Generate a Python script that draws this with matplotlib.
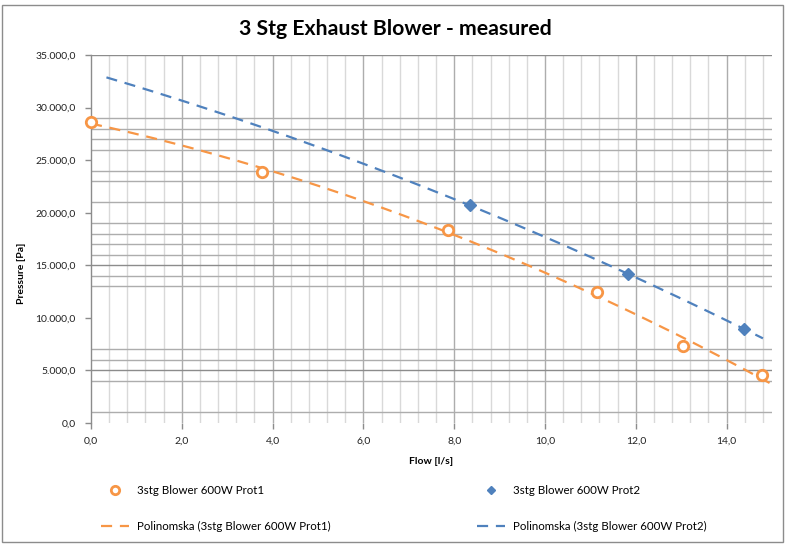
import matplotlib
matplotlib.use("Agg")
import matplotlib.pyplot as plt
from matplotlib.lines import Line2D
from matplotlib.patches import Rectangle
from matplotlib.ticker import FuncFormatter
import numpy as np

plt.rcParams['font.family'] = ['Lato', 'DejaVu Sans']

# measured points
flow_p1 = [0.0, 3.76, 7.87, 11.14, 13.05, 14.77]
pres_p1 = [28600, 23900, 18400, 12500, 7300, 4550]
flow_p2 = [8.34, 11.83, 14.39]
pres_p2 = [20700, 14180, 8930]

label_p1 = "3stg Blower 600W Prot1"
label_p2 = "3stg Blower 600W Prot2"
trend_p1 = "Polinomska (3stg Blower 600W Prot1)"
trend_p2 = "Polinomska (3stg Blower 600W Prot2)"

# trendline extent (Excel forecast)
trend_range_p1 = (0.0, 15.2)
trend_range_p2 = (0.34, 14.8)

# horizontal gridlines that survived in the picture
ygrid = [1000, 4000, 5000, 6000, 7000, 13000, 14000, 15000, 16000, 17000,
         18000, 19000, 21000, 23000, 24000, 26000, 27000, 28000, 29000, 35000]

orange = '#F79646'
blue = '#4F81BD'

W, H = 786, 546
fig = plt.figure(figsize=(W / 100, H / 100), dpi=100)
ax = fig.add_axes([91 / W, 1 - 423 / H, (772 - 91) / W, (423 - 55) / H])

ax.set_xlim(0, 15)
ax.set_ylim(0, 35000)

# grid
ax.set_xticks(np.arange(0, 15.01, 2.0))
ax.set_xticks(np.arange(0, 15.0, 0.4), minor=True)
ax.set_yticks(np.arange(0, 35001, 5000))
ax.set_yticks(ygrid, minor=True)
ax.grid(False)
for x in np.arange(0.4, 15.0, 0.4):
    if abs(x / 2 - round(x / 2)) > 1e-6:
        ax.axvline(x, color='#D9D9D9', lw=1.0, zorder=0)
for x in np.arange(2, 15, 2):
    ax.axvline(x, color='#ADADAD', lw=1.0, zorder=0)
for y in ygrid:
    c = '#8C8C8C' if y % 5000 == 0 else '#ADADAD'
    ax.axhline(y, color=c, lw=1.0, zorder=0)

ax.tick_params(axis='both', which='minor', length=0)
ax.tick_params(axis='both', which='major', length=4, color='#8C8C8C', width=1,
               labelsize=7.5, labelcolor='#222222')
ax.tick_params(axis='x', pad=6)
ax.tick_params(axis='y', pad=7)

for s in ['top', 'right', 'bottom']:
    ax.spines[s].set_visible(False)
ax.spines['left'].set_color('#8C8C8C')
ax.spines['left'].set_linewidth(1.0)

def euro(v):
    s = f"{v:,.1f}"
    return s.replace(',', 'X').replace('.', ',').replace('X', '.')

ax.xaxis.set_major_formatter(FuncFormatter(lambda v, p: euro(v)))
ax.yaxis.set_major_formatter(FuncFormatter(lambda v, p: euro(v)))

# polynomial trendlines (order 2)
c1 = np.polyfit(flow_p1, pres_p1, 2)
xs1 = np.linspace(*trend_range_p1, 200)
ax.plot(xs1, np.polyval(c1, xs1), color=orange, lw=1.6, dashes=(5, 3.5),
        zorder=3, clip_on=True)
c2 = np.polyfit(flow_p2, pres_p2, 2)
xs2 = np.linspace(*trend_range_p2, 200)
ax.plot(xs2, np.polyval(c2, xs2), color=blue, lw=1.6, dashes=(5, 3.5),
        zorder=3)

ax.plot(flow_p1, pres_p1, 'o', ms=7.5, mfc='white', mec=orange, mew=2.0,
        zorder=4, clip_on=False)
ax.plot(flow_p2, pres_p2, 'D', ms=6, color=blue, zorder=4)

ax.set_xlabel("Flow [l/s]", fontsize=7.5, fontweight='bold', labelpad=8)
ax.set_ylabel("Pressure [Pa]", fontsize=7.5, fontweight='bold')
ax.yaxis.set_label_coords(26 / W, 0.5, transform=fig.transFigure)

fig.text(0.503, 1 - 29 / H, "3 Stg Exhaust Blower - measured", ha='center',
         va='center', fontsize=15.3, fontweight='bold')

# legend: two columns as two legends
h1 = Line2D([], [], ls='none', marker='o', ms=6, mfc='white', mec=orange, mew=2.0)
h2 = Line2D([], [], color=orange, lw=1.6, dashes=(5, 3.5))
h3 = Line2D([], [], ls='none', marker='D', ms=4.5, color=blue)
h4 = Line2D([], [], color=blue, lw=1.6, dashes=(5, 3.5))

kw = dict(frameon=False, fontsize=8.3, handlelength=2.4, handletextpad=0.75,
          labelspacing=2.2, borderpad=0, borderaxespad=0, loc='upper left')
leg1 = fig.legend([h1, h2], [label_p1, trend_p1],
                  bbox_to_anchor=(101 / W, 1 - 485 / H), **kw)
leg2 = fig.legend([h3, h4], [label_p2, trend_p2],
                  bbox_to_anchor=(477 / W, 1 - 485 / H), **kw)

fig.patches.append(Rectangle((2 / W, 4 / H), (W - 5) / W, (H - 9) / H,
                             transform=fig.transFigure, fill=False,
                             edgecolor='#8C8C8C', lw=1.0))

fig.savefig("out.png", dpi=100)
